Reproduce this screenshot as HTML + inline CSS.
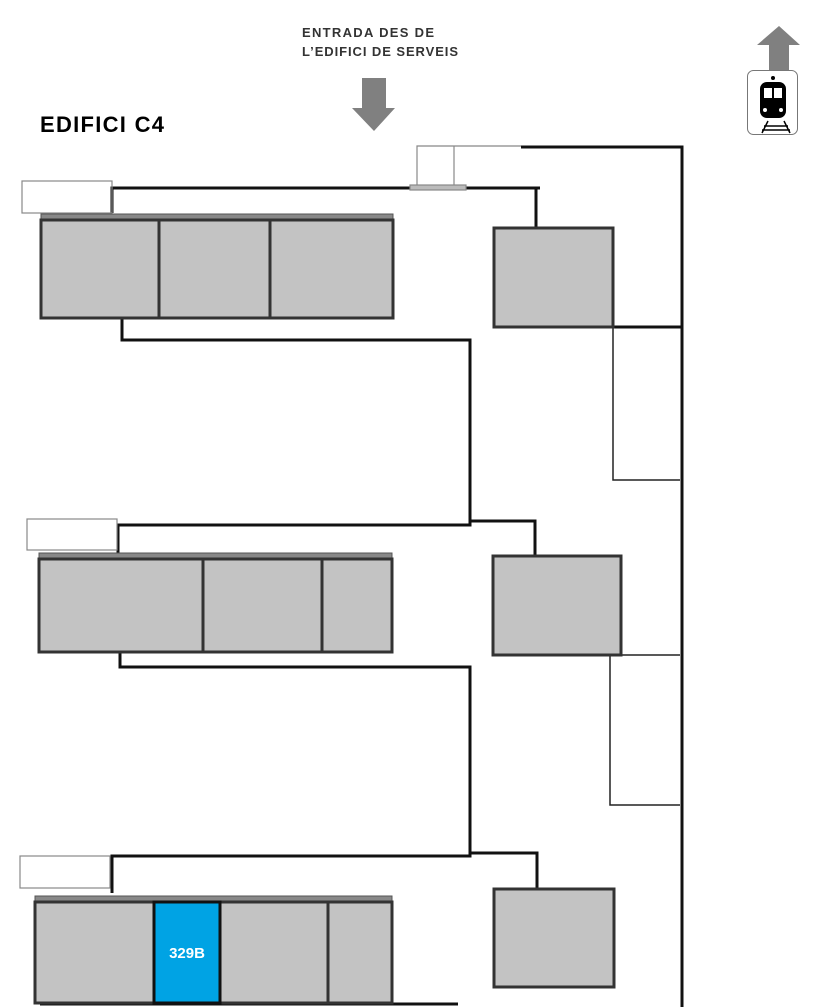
<!DOCTYPE html>
<html><head><meta charset="utf-8"><style>
html,body{margin:0;padding:0;background:#fff;}
svg{display:block;}
text{font-family:"Liberation Sans",sans-serif;font-weight:bold;}
</style></head><body>
<svg width="815" height="1007" viewBox="0 0 815 1007" xmlns="http://www.w3.org/2000/svg">
<rect width="815" height="1007" fill="#fff"/>
<text x="302" y="37" font-size="13" fill="#333" transform="scale(1,1)" textLength="132">ENTRADA DES DE</text>
<text x="302" y="56" font-size="13" fill="#333" textLength="156">L’EDIFICI DE SERVEIS</text>
<text x="40" y="132" font-size="22" fill="#000" textLength="124">EDIFICI C4</text>
<!-- down arrow -->
<polygon points="362,78 386,78 386,108 395,108 374,131 352,108 362,108" fill="#808080"/>
<!-- train icon -->
<polygon points="779,26 800,45 789,45 789,72 769,72 769,45 757,45" fill="#808080"/>
<rect x="747.5" y="70.5" width="50" height="64" rx="6" fill="#fff" stroke="#777"/>
<rect x="760" y="82" width="26" height="36" rx="7" fill="#000"/>
<rect x="764" y="88" width="8" height="10" fill="#fff"/><rect x="774" y="88" width="8" height="10" fill="#fff"/>
<circle cx="765" cy="110" r="2" fill="#fff"/><circle cx="781" cy="110" r="2" fill="#fff"/>
<circle cx="773" cy="78" r="2" fill="#000"/>
<path d="M762 133 L768 121 M784 121 L790 133 M764 126 H788 M762 130 H790" stroke="#000" stroke-width="1.5"/>
<g fill="none" stroke="#111" stroke-width="3">
<!-- outer -->
<path d="M521 147 H682 V1007"/>
<path d="M112 213 V188 H410"/>
<path d="M466 188 H540 M536 188 V228"/>
<path d="M122 318 V340 H470 V525 H118 V555"/>
<path d="M470 521 H535 V556"/>
<path d="M120 652 V667 H470 V856 H112 V893"/>
<path d="M470 853 H537 V889"/>
<path d="M613 327 H682"/>
<path d="M40 1004 H458"/>
</g>
<g fill="none" stroke="#888" stroke-width="1.2">
<rect x="22" y="181" width="90" height="32"/>
<rect x="27" y="519" width="90" height="31"/>
<rect x="20" y="856" width="90" height="32"/>
<path d="M417 188 V146 H521 M454 146 V188"/>
<rect x="410" y="185" width="56" height="5" fill="#bbb"/>
</g>
<g fill="none" stroke="#222" stroke-width="1.5">
<path d="M613 327 V480 H680"/>
<path d="M610 655 V805 H680 M613 655 H680"/>
</g>
<!-- door strips -->
<g fill="#888" stroke="#555" stroke-width="1">
<rect x="41" y="214" width="352" height="6"/>
<rect x="39" y="553" width="353" height="6"/>
<rect x="35" y="896" width="357" height="6"/>
</g>
<g fill="#c3c3c3" stroke="#333" stroke-width="3">
<rect x="41" y="220" width="118" height="98"/>
<rect x="159" y="220" width="111" height="98"/>
<rect x="270" y="220" width="123" height="98"/>
<rect x="494" y="228" width="119" height="99"/>
<rect x="39" y="559" width="164" height="93"/>
<rect x="203" y="559" width="119" height="93"/>
<rect x="322" y="559" width="70" height="93"/>
<rect x="493" y="556" width="128" height="99"/>
<rect x="35" y="902" width="119" height="101"/>
<rect x="220" y="902" width="108" height="101"/>
<rect x="328" y="902" width="64" height="101"/>
<rect x="494" y="889" width="120" height="98"/>
</g>
<rect x="154" y="902" width="66" height="101" fill="#00a3e4" stroke="#111" stroke-width="3"/>
<text x="187" y="958" font-size="15" fill="#fff" text-anchor="middle">329B</text>
</svg>
</body></html>
